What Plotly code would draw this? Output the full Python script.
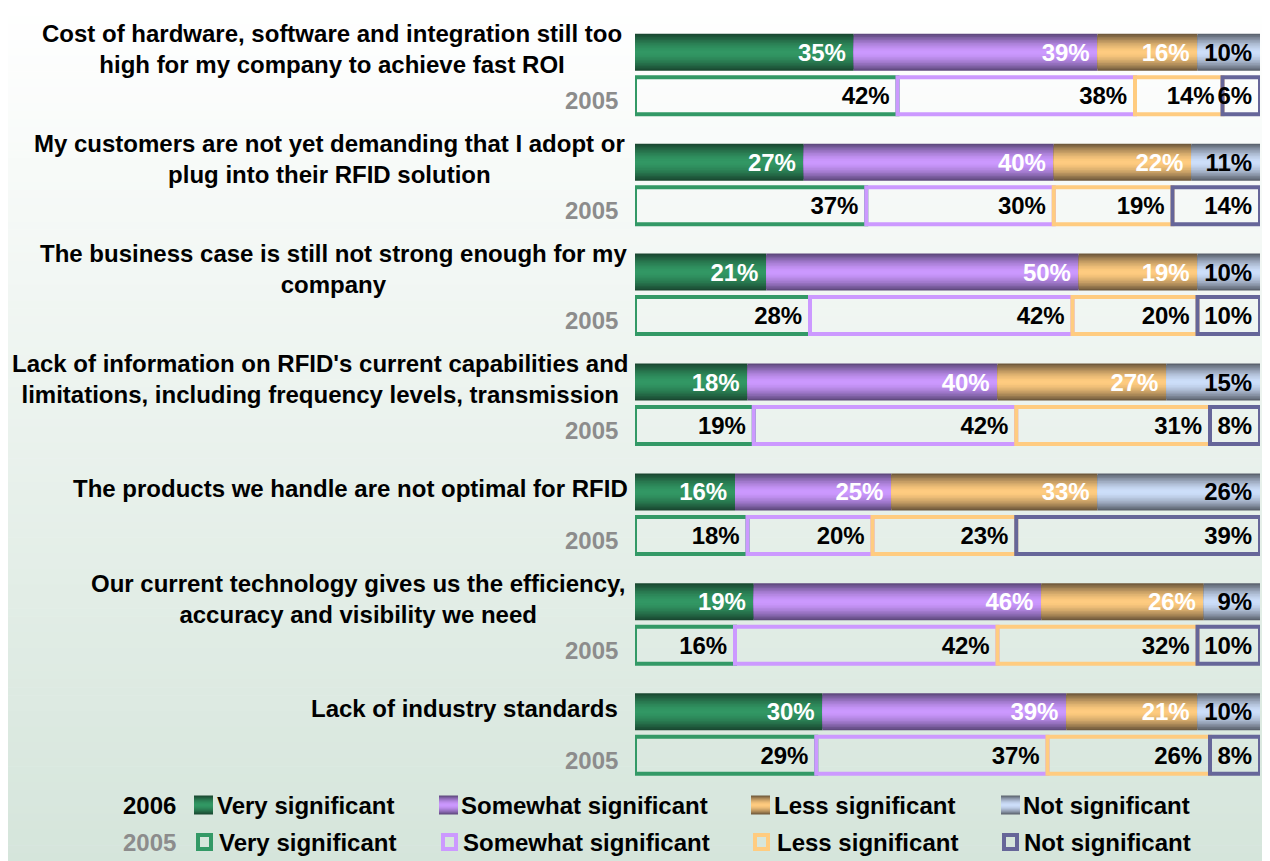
import plotly.graph_objects as go

# ---------------- data ----------------
categories = [
    "Cost of hardware, software and integration still too<br>high for my company to achieve fast ROI",
    "My customers are not yet demanding that I adopt or<br>plug into their RFID solution",
    "The business case is still not strong enough for my<br>company",
    "Lack of information on RFID's current capabilities and<br>limitations, including frequency levels, transmission",
    "The products we handle are not optimal for RFID",
    "Our current technology gives us the efficiency,<br>accuracy and visibility we need",
    "Lack of industry standards",
]
series_names = ["Very significant", "Somewhat significant", "Less significant", "Not significant"]

very_2006 = [35, 27, 21, 18, 16, 19, 30]
somewhat_2006 = [39, 40, 50, 40, 25, 46, 39]
less_2006 = [16, 22, 19, 27, 33, 26, 21]
not_2006 = [10, 11, 10, 15, 26, 9, 10]

very_2005 = [42, 37, 28, 19, 18, 16, 29]
somewhat_2005 = [38, 30, 42, 42, 20, 42, 37]
less_2005 = [14, 19, 20, 31, 23, 32, 26]
not_2005 = [6, 14, 10, 8, 39, 10, 8]

year_labels = ["2006", "2005"]

values_2006 = [very_2006, somewhat_2006, less_2006, not_2006]
values_2005 = [very_2005, somewhat_2005, less_2005, not_2005]

# ---------------- style ----------------
WIN_W, WIN_H = 1270, 861
OFF = 8                          # page body margin
FIG_W, FIG_H = WIN_W - OFF, WIN_H - OFF
PLOT_L, PLOT_R = 635, 1260       # window pixels
ROW_PX = 109.9
FIRST_PX = 52.3                  # window y of first 2006 bar centre
PAIR_GAP = 43.5
BAR_PX = 37.0
FONT = "Liberation Sans, Arial, sans-serif"
label_xshift = [-11, -8, -6, -5, -5, -8, -15]

HALF = PAIR_GAP / 2 / ROW_PX
BAR_W = BAR_PX / ROW_PX
C0 = FIRST_PX - OFF + PAIR_GAP / 2   # figure px of category 0 centre
Y_TOP = -C0 / ROW_PX
Y_BOT = (FIG_H - C0) / ROW_PX

grad = [
    ((24, 66, 45), (50, 152, 100)),
    ((88, 68, 118), (204, 153, 255)),
    ((102, 82, 55), (255, 204, 128)),
    ((84, 90, 101), (205, 223, 250)),
]
outline_2005 = ["#339966", "#cc99ff", "#ffcc80", "#666699"]
text_2006 = ["white", "white", "white", "black"]
BG_TOP = (255, 255, 255)
BG_BOT = (213, 229, 219)
N_LAYERS = 12
PAD = "\u2009"


def mix(c1, c2, t):
    return tuple(round(a + (b - a) * t) for a, b in zip(c1, c2))


def rgb(c):
    return "rgb(%d,%d,%d)" % c


def layers(edge, centre):
    out = []
    for k in range(N_LAYERS):
        f = 1 - k / N_LAYERS
        d = 1 - (k + 0.5) / N_LAYERS
        out.append((f, rgb(mix(centre, edge, d ** 1.6))))
    return out


def px2x(px):
    return (px - PLOT_L) / (PLOT_R - PLOT_L)


def py2y(py):
    return 1 - (py - OFF) / FIG_H


def starts(series_list):
    res = []
    acc = [0] * len(series_list[0])
    for s in series_list:
        res.append(list(acc))
        acc = [a + v for a, v in zip(acc, s)]
    return res


n = len(categories)
y06 = [i - HALF for i in range(n)]
y05 = [i + HALF for i in range(n)]

fig = go.Figure()

base06 = starts(values_2006)
for s, vals in enumerate(values_2006):
    for f, col in layers(*grad[s]):
        fig.add_trace(go.Bar(
            orientation="h", y=y06, x=vals, base=base06[s], width=BAR_W * f,
            marker=dict(color=col, line=dict(width=0)),
            showlegend=False, hoverinfo="skip",
        ))
for s, vals in enumerate(values_2006):
    fig.add_trace(go.Bar(
        orientation="h", y=y06, x=vals, base=base06[s], width=BAR_W,
        marker=dict(color="rgba(0,0,0,0)", line=dict(width=0)),
        text=["%d%%%s" % (v, PAD) for v in vals], textposition="inside", insidetextanchor="end",
        constraintext="none",
        textfont=dict(family=FONT, size=24, color=text_2006[s], weight="bold"),
        name="2006 " + series_names[s], showlegend=False,
        hovertemplate="%{x}%<extra></extra>",
    ))

base05 = starts(values_2005)
for s, vals in enumerate(values_2005):
    fig.add_trace(go.Bar(
        orientation="h", y=y05, x=vals, base=base05[s], width=BAR_W,
        marker=dict(color="rgba(0,0,0,0)", line=dict(width=4, color=outline_2005[s])),
        text=["%d%%%s" % (v, PAD) for v in vals], textposition="inside", insidetextanchor="end",
        constraintext="none", cliponaxis=False,
        textfont=dict(family=FONT, size=24, color="black", weight="bold"),
        name="2005 " + series_names[s], showlegend=False,
        hovertemplate="%{x}%<extra></extra>",
    ))

annotations = []
for i, cat in enumerate(categories):
    annotations.append(dict(
        text="<b>%s</b>" % cat, xref="paper", yref="y", x=0, y=y06[i] - 0.03,
        xanchor="right", yanchor="middle", align="center", xshift=label_xshift[i],
        showarrow=False, font=dict(family=FONT, size=24, color="black"),
    ))
    annotations.append(dict(
        text="<b>%s</b>" % year_labels[1], xref="paper", yref="y", x=0, y=y05[i] + 0.045,
        xanchor="right", yanchor="middle", xshift=-15,
        showarrow=False, font=dict(family=FONT, size=24, color="#8c8c8c"),
    ))

shapes = []
N_BANDS = 108
for b in range(N_BANDS):
    p0 = OFF + FIG_H * b / N_BANDS
    p1 = OFF + FIG_H * (b + 1) / N_BANDS + 0.6
    c = mix(BG_TOP, BG_BOT, (b + 0.5) / N_BANDS)
    shapes.append(dict(type="rect", xref="paper", yref="paper",
                       x0=px2x(OFF), x1=px2x(WIN_W), y0=py2y(p1), y1=py2y(p0),
                       fillcolor=rgb(c), line=dict(width=0), layer="below"))

ROW1, ROW2 = 805, 842
sw_x06 = [194, 439, 751, 1001]
tx_06 = [215, 459, 772, 1021]
sw_x05 = [196, 441, 753, 1002]
tx_05 = [217, 461, 775, 1022]
annotations.append(dict(text="<b>%s</b>" % year_labels[0], xref="paper", yref="paper",
                        x=px2x(178), y=py2y(ROW1),
                        xanchor="right", yanchor="middle", showarrow=False,
                        font=dict(family=FONT, size=24, color="black")))
annotations.append(dict(text="<b>%s</b>" % year_labels[1], xref="paper", yref="paper",
                        x=px2x(178), y=py2y(ROW2),
                        xanchor="right", yanchor="middle", showarrow=False,
                        font=dict(family=FONT, size=24, color="#8c8c8c")))
for s in range(4):
    x0 = sw_x06[s]
    for f, col in layers(*grad[s]):
        shapes.append(dict(type="rect", xref="paper", yref="paper",
                           x0=px2x(x0), x1=px2x(x0 + 19),
                           y0=py2y(ROW1 + 9.5 * f), y1=py2y(ROW1 - 9.5 * f),
                           fillcolor=col, line=dict(width=0)))
    annotations.append(dict(text="<b>%s</b>" % series_names[s], xref="paper", yref="paper",
                            x=px2x(tx_06[s]), y=py2y(ROW1), xanchor="left", yanchor="middle",
                            showarrow=False, font=dict(family=FONT, size=24, color="black")))
    x0 = sw_x05[s]
    shapes.append(dict(type="rect", xref="paper", yref="paper",
                       x0=px2x(x0 + 2), x1=px2x(x0 + 15),
                       y0=py2y(ROW2 + 7), y1=py2y(ROW2 - 7),
                       fillcolor="rgba(0,0,0,0)", line=dict(width=4, color=outline_2005[s])))
    annotations.append(dict(text="<b>%s</b>" % series_names[s], xref="paper", yref="paper",
                            x=px2x(tx_05[s]), y=py2y(ROW2), xanchor="left", yanchor="middle",
                            showarrow=False, font=dict(family=FONT, size=24, color="black")))

fig.update_layout(
    width=FIG_W, height=FIG_H,
    barmode="overlay",
    margin=dict(l=PLOT_L - OFF, r=(OFF + FIG_W) - PLOT_R, t=0, b=0, pad=0, autoexpand=False),
    paper_bgcolor="white", plot_bgcolor="rgba(0,0,0,0)",
    xaxis=dict(range=[0, 100], visible=False, fixedrange=True),
    yaxis=dict(range=[Y_BOT, Y_TOP], visible=False, fixedrange=True),
    annotations=annotations, shapes=shapes,
    showlegend=False,
    font=dict(family=FONT),
)

fig.write_html("out.html")
